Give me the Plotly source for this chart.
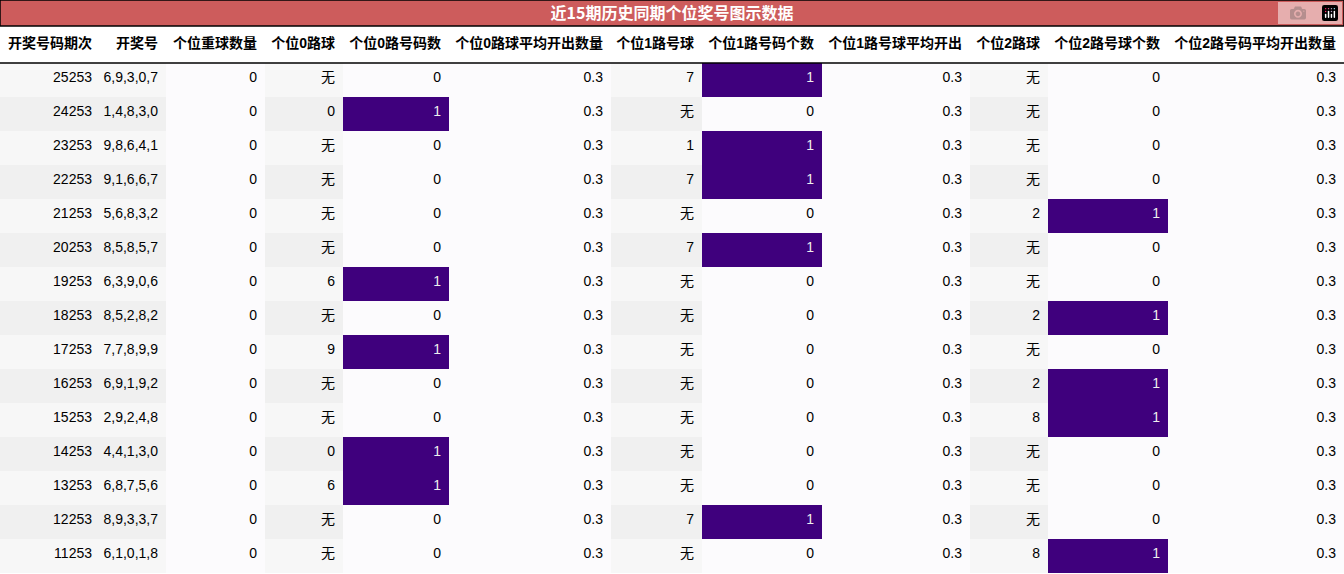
import plotly.graph_objs as go

periods = [str(25253 - 1000 * i) for i in range(15)]
draws = ["6,9,3,0,7", "1,4,8,3,0", "9,8,6,4,1", "9,1,6,6,7", "5,6,8,3,2", "8,5,8,5,7",
         "6,3,9,0,6", "8,5,2,8,2", "7,7,8,9,9", "6,9,1,9,2", "2,9,2,4,8", "4,4,1,3,0",
         "6,8,7,5,6", "8,9,3,3,7", "6,1,0,1,8"]
repeat_cnt = [0] * 15
road0_ball = ["无", "0", "无", "无", "无", "无", "6", "无", "9", "无", "无", "0", "6", "无", "无"]
road0_cnt = [0, 1, 0, 0, 0, 0, 1, 0, 1, 0, 0, 1, 1, 0, 0]
road0_avg = [0.3] * 15
road1_ball = ["7", "无", "1", "7", "无", "7", "无", "无", "无", "无", "无", "无", "无", "7", "无"]
road1_cnt = [1, 0, 1, 1, 0, 1, 0, 0, 0, 0, 0, 0, 0, 1, 0]
road1_avg = [0.3] * 15
road2_ball = ["无", "无", "无", "无", "2", "无", "无", "2", "无", "2", "8", "无", "无", "无", "8"]
road2_cnt = [0, 0, 0, 0, 1, 0, 0, 1, 0, 1, 1, 0, 0, 0, 1]
road2_avg = [0.3] * 15

headers = ["开奖号码期次", "开奖号", "个位重球数量", "个位0路球", "个位0路号码数", "个位0路球平均开出数量",
           "个位1路号球", "个位1路号码个数", "个位1路号球平均开出", "个位2路球", "个位2路号球个数", "个位2路号码平均开出数量"]
columns = [periods, draws, repeat_cnt, road0_ball, road0_cnt, road0_avg,
           road1_ball, road1_cnt, road1_avg, road2_ball, road2_cnt, road2_avg]
widths = [100, 66, 99, 78, 106, 162, 91, 120, 148, 78, 120, 176]

band = ["#f7f7f7" if i % 2 == 0 else "#f0f0f0" for i in range(15)]
fills, fcolors = [], []
for col in columns:
    if isinstance(col[0], str):
        fills.append(band)
        fcolors.append(["#000000"] * 15)
    else:
        mx = max(col)
        fills.append(["#3f007d" if (mx > 0 and v == mx and v != 0.3) else "#fcfbfd" for v in col])
        fcolors.append(["#eeeeee" if (mx > 0 and v == mx and v != 0.3) else "#000000" for v in col])

W, H = 1344, 574
top = 27
fig = go.Figure(go.Table(
    columnwidth=widths,
    domain=dict(x=[0, 1], y=[0, (H - top) / H]),
    header=dict(values=["<b>%s</b>" % h for h in headers], height=36, align="right",
                fill_color="white", line=dict(color="white", width=0),
                font=dict(family="Liberation Sans, Noto Sans CJK SC", size=14, color="black")),
    cells=dict(values=columns, height=34, align="right",
               fill_color=fills, line=dict(color="rgba(0,0,0,0)", width=0),
               font=dict(family="Liberation Sans, Noto Sans CJK SC", size=14, color=fcolors)),
))
fig.add_shape(type="rect", xref="paper", yref="paper", x0=0, x1=1, y0=(H - 26) / H, y1=1,
              fillcolor="#cd5c5c", line=dict(color="black", width=1.5), layer="below")
fig.add_shape(type="line", xref="paper", yref="paper", x0=0, x1=1,
              y0=(H - 63) / H, y1=(H - 63) / H, line=dict(color="black", width=1.5))
fig.update_layout(
    width=W, height=H, margin=dict(l=0, r=0, t=0, b=0), paper_bgcolor="white",
    title=dict(text="<b>近15期历史同期个位奖号图示数据</b>", x=0.5, xanchor="center",
               y=1 - 13.5 / H, yanchor="middle", yref="container",
               font=dict(family="Noto Sans CJK SC", size=16, color="white")),
)
fig.write_html("out.html")

with open("out.html", encoding="utf-8") as f:
    page = f.read()
page = page.replace("<body>", '<body style="margin:0;overflow:hidden">', 1)
with open("out.html", "w", encoding="utf-8") as f:
    f.write(page)
